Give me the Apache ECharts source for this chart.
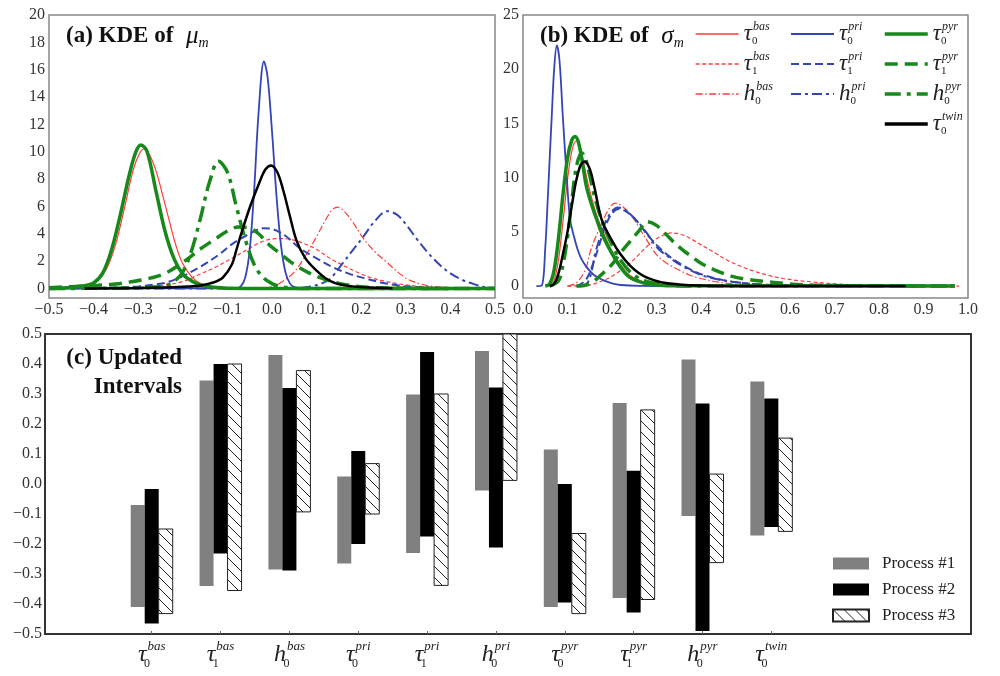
<!DOCTYPE html>
<html>
<head>
<meta charset="utf-8">
<script src="https://cdn.jsdelivr.net/npm/echarts@6/dist/echarts.min.js"></script>
<style>
  html, body { margin: 0; padding: 0; background: #fff; }
  #main { width: 1000px; height: 676px; }
</style>
</head>
<body>
<div id="main"></div>
<script>
// ---- (a) KDE of mu_m : [x, density]
var muTau0Bas = [[-0.5,0],[-0.44,0.05],[-0.41,0.2],[-0.39,0.6],[-0.37,1.5],[-0.35,3.3],[-0.33,6.0],[-0.31,8.8],[-0.295,10.0],[-0.287,10.2],[-0.275,9.8],[-0.26,8.6],[-0.245,6.8],[-0.23,4.9],[-0.215,3.1],[-0.2,1.8],[-0.18,0.85],[-0.16,0.35],[-0.13,0.1],[-0.1,0.02],[0.0,0],[0.5,0]];
var muTau1Bas = [[-0.5,0],[-0.34,0.03],[-0.28,0.12],[-0.24,0.25],[-0.2,0.5],[-0.168,0.95],[-0.13,1.5],[-0.09,2.2],[-0.05,2.95],[-0.02,3.45],[0.01,3.65],[0.04,3.6],[0.07,3.3],[0.1,2.85],[0.13,2.2],[0.168,1.55],[0.2,1.05],[0.22,0.8],[0.25,0.55],[0.28,0.35],[0.32,0.18],[0.36,0.08],[0.42,0.02],[0.5,0]];
var muH0Bas = [[-0.5,0],[-0.05,0],[0.0,0.12],[0.025,0.55],[0.05,1.2],[0.078,2.55],[0.1,3.8],[0.12,5.0],[0.135,5.75],[0.147,5.95],[0.16,5.7],[0.18,4.9],[0.204,3.7],[0.23,2.7],[0.258,1.9],[0.28,1.25],[0.303,0.7],[0.33,0.35],[0.36,0.15],[0.4,0.05],[0.45,0.01],[0.5,0]];
var muTau0Pri = [[-0.5,0],[-0.1,0],[-0.08,0.02],[-0.07,0.15],[-0.06,0.8],[-0.05,2.8],[-0.04,7.2],[-0.03,12.9],[-0.018,16.6],[-0.01,15.5],[0.0,11.5],[0.01,6.8],[0.02,3.2],[0.03,1.2],[0.04,0.37],[0.05,0.09],[0.07,0],[0.5,0]];
var muTau1Pri = [[-0.5,0],[-0.38,0.05],[-0.3,0.15],[-0.26,0.3],[-0.235,0.45],[-0.2,0.9],[-0.16,1.6],[-0.12,2.45],[-0.087,3.3],[-0.05,4.0],[-0.02,4.4],[0.0,4.35],[0.03,3.85],[0.06,3.0],[0.1,2.2],[0.137,1.55],[0.175,1.05],[0.213,0.7],[0.25,0.4],[0.287,0.2],[0.33,0.08],[0.38,0.02],[0.45,0],[0.5,0]];
var muH0Pri = [[-0.5,0],[0.04,0],[0.08,0.1],[0.11,0.35],[0.13,0.7],[0.16,1.9],[0.18,2.75],[0.204,3.75],[0.23,4.9],[0.258,5.65],[0.28,5.4],[0.3,4.7],[0.325,3.6],[0.35,2.6],[0.377,1.7],[0.4,1.1],[0.428,0.6],[0.45,0.35],[0.473,0.12],[0.5,0.05]];
var muTau0Pyr = [[-0.5,0],[-0.46,0.05],[-0.42,0.2],[-0.4,0.4],[-0.38,1.1],[-0.36,2.8],[-0.34,5.4],[-0.32,8.3],[-0.305,10.0],[-0.294,10.5],[-0.28,10.0],[-0.26,7.1],[-0.24,4.2],[-0.22,2.2],[-0.2,1.05],[-0.18,0.55],[-0.16,0.25],[-0.13,0.08],[-0.1,0.02],[0.0,0],[0.5,0]];
var muTau1Pyr = [[-0.5,0.05],[-0.44,0.15],[-0.39,0.23],[-0.35,0.32],[-0.32,0.46],[-0.28,0.7],[-0.24,1.1],[-0.2,1.9],[-0.16,2.9],[-0.13,3.55],[-0.1,4.2],[-0.075,4.5],[-0.05,4.4],[-0.03,4.0],[-0.01,3.3],[0.02,2.5],[0.05,1.75],[0.085,1.1],[0.12,0.65],[0.15,0.37],[0.2,0.12],[0.25,0.04],[0.3,0.01],[0.4,0]];
var muH0Pyr = [[-0.5,0],[-0.35,0.02],[-0.28,0.08],[-0.24,0.2],[-0.22,0.5],[-0.2,1.2],[-0.18,2.8],[-0.16,5.2],[-0.14,7.8],[-0.12,9.3],[-0.1,8.5],[-0.08,6.0],[-0.06,3.6],[-0.04,1.75],[-0.02,0.8],[0.0,0.35],[0.02,0.12],[0.05,0.02],[0.1,0],[0.5,0]];
var muTau0Twin = [[-0.42,0],[-0.3,0.03],[-0.2,0.12],[-0.16,0.22],[-0.13,0.45],[-0.11,0.8],[-0.09,1.75],[-0.08,2.8],[-0.07,3.9],[-0.05,5.9],[-0.03,7.6],[-0.015,8.7],[-0.002,9.0],[0.012,8.5],[0.025,7.2],[0.04,5.3],[0.055,3.5],[0.075,2.2],[0.1,1.3],[0.12,0.75],[0.145,0.35],[0.18,0.15],[0.22,0.06],[0.27,0.02]];

// ---- (b) KDE of sigma_m : [x, density]
var sgTau0Bas = [[0.06,0],[0.07,0.5],[0.08,2.5],[0.09,6],[0.1,9.8],[0.11,12.5],[0.12,13.4],[0.13,12.6],[0.14,10.6],[0.15,8.8],[0.165,6.6],[0.18,5.0],[0.2,3.2],[0.22,1.9],[0.24,1.0],[0.27,0.4],[0.3,0.12],[0.35,0.02],[0.4,0]];
var sgTau1Bas = [[0.1,0],[0.15,0.1],[0.173,0.4],[0.2,0.9],[0.24,2.1],[0.26,2.9],[0.285,3.9],[0.31,4.6],[0.335,4.9],[0.36,4.7],[0.38,4.3],[0.4,3.8],[0.43,3.1],[0.458,2.4],[0.485,1.9],[0.51,1.5],[0.55,1.0],[0.585,0.7],[0.62,0.5],[0.66,0.35],[0.7,0.2],[0.75,0.1],[0.82,0.03],[0.98,0]];
var sgH0Bas = [[0.1,0],[0.12,0.3],[0.14,1.5],[0.15,3.0],[0.16,4.2],[0.173,5.4],[0.19,6.9],[0.207,7.65],[0.225,7.3],[0.247,6.3],[0.265,5.1],[0.285,3.8],[0.3,2.9],[0.323,2.1],[0.35,1.5],[0.375,1.0],[0.41,0.6],[0.45,0.3],[0.5,0.12],[0.6,0.03],[0.7,0]];
var sgTau0Pri = [[0.03,0],[0.042,0.05],[0.05,3.5],[0.055,7.5],[0.06,11.8],[0.065,16],[0.07,20],[0.076,22.2],[0.082,20.8],[0.09,15.3],[0.1,9.0],[0.106,6.1],[0.115,4.5],[0.121,3.6],[0.13,2.6],[0.143,1.75],[0.16,1.0],[0.18,0.55],[0.2,0.25],[0.22,0.1],[0.26,0.02],[0.38,0]];
var sgTau1Pri = [[0.12,0],[0.14,0.5],[0.155,1.8],[0.17,3.6],[0.185,5.5],[0.2,6.7],[0.215,7.1],[0.235,6.8],[0.26,5.8],[0.28,4.7],[0.3,3.8],[0.33,2.7],[0.36,1.9],[0.4,1.1],[0.45,0.55],[0.5,0.25],[0.56,0.1],[0.65,0.02],[0.75,0]];
var sgH0Pri = [[0.13,0],[0.145,0.3],[0.155,1.5],[0.162,3.0],[0.177,4.9],[0.19,6.3],[0.213,7.25],[0.23,7.0],[0.256,6.0],[0.28,4.8],[0.3,3.6],[0.33,2.6],[0.36,1.8],[0.39,1.2],[0.413,0.85],[0.44,0.6],[0.47,0.4],[0.52,0.18],[0.58,0.06],[0.65,0]];
var sgTau0Pyr = [[0.05,0],[0.06,0.2],[0.07,1.5],[0.08,4.5],[0.09,8.5],[0.1,11.8],[0.11,13.5],[0.117,13.8],[0.125,13.2],[0.135,11],[0.143,9.1],[0.155,7.4],[0.166,6.1],[0.18,4.6],[0.2,3.0],[0.22,1.7],[0.24,0.8],[0.27,0.3],[0.3,0.1],[0.35,0.02],[0.97,0]];
var sgTau1Pyr = [[0.12,0],[0.15,0.2],[0.18,1.2],[0.2,2.0],[0.218,3.0],[0.24,4.1],[0.263,5.2],[0.278,5.95],[0.3,5.6],[0.323,4.7],[0.34,4.0],[0.36,3.3],[0.38,2.7],[0.4,2.1],[0.43,1.5],[0.47,0.9],[0.5,0.65],[0.55,0.4],[0.6,0.2],[0.65,0.1],[0.75,0.02],[0.97,0]];
var sgH0Pyr = [[0.06,0],[0.08,0.5],[0.09,2],[0.1,4.5],[0.11,8],[0.12,11],[0.132,12.3],[0.14,11.8],[0.15,10.2],[0.16,8.4],[0.175,6.3],[0.19,4.7],[0.21,3.0],[0.23,1.8],[0.25,1.0],[0.28,0.4],[0.32,0.1],[0.4,0],[0.97,0]];
var sgTau0Twin = [[0.06,0],[0.07,0.2],[0.08,1.2],[0.09,3],[0.1,5],[0.11,7.5],[0.12,9.8],[0.13,11.2],[0.139,11.5],[0.15,10.8],[0.16,9.2],[0.177,6.1],[0.2,4.2],[0.218,3.0],[0.24,1.9],[0.26,1.2],[0.28,0.75],[0.31,0.35],[0.35,0.15],[0.4,0.05],[0.5,0.01],[0.86,0]];

// ---- (c) updated intervals
var catSymbols = ['τ','τ','h','τ','τ','h','τ','τ','h','τ'];
var catSubs = ['0','1','0','0','1','0','0','1','0','0'];
var catSups = ['bas','bas','bas','pri','pri','pri','pyr','pyr','pyr','twin'];
var proc1Low  = [-0.41,-0.34,-0.285,-0.265,-0.23,-0.022,-0.41,-0.38,-0.107,-0.172];
var proc1High = [-0.07,0.345,0.43,0.025,0.298,0.443,0.115,0.27,0.415,0.342];
var proc2Low  = [-0.465,-0.232,-0.288,-0.2,-0.175,-0.212,-0.395,-0.428,-0.49,-0.143];
var proc2High = [-0.017,0.40,0.32,0.11,0.44,0.322,0.0,0.044,0.268,0.285];
var proc3Low  = [-0.432,-0.355,-0.093,-0.1,-0.338,0.012,-0.432,-0.385,-0.262,-0.158];
var proc3High = [-0.15,0.40,0.378,0.068,0.30,0.5,-0.165,0.247,0.033,0.153];
var processNames = ['Process #1','Process #2','Process #3'];

// tick labels
var densTicksA = [0,2,4,6,8,10,12,14,16,18,20];
var densTicksB = [0,5,10,15,20,25];

var FONT = 'Liberation Serif';
var RED = '#ff3a3a', BLUE = '#3445b5', GREEN = '#16891a';

var curveKeys = ['tau0bas','tau1bas','h0bas','tau0pri','tau1pri','h0pri','tau0pyr','tau1pyr','h0pyr','tau0twin'];
var muData = [muTau0Bas,muTau1Bas,muH0Bas,muTau0Pri,muTau1Pri,muH0Pri,muTau0Pyr,muTau1Pyr,muH0Pyr,muTau0Twin];
var sgData = [sgTau0Bas,sgTau1Bas,sgH0Bas,sgTau0Pri,sgTau1Pri,sgH0Pri,sgTau0Pyr,sgTau1Pyr,sgH0Pyr,sgTau0Twin];
var curveSym = ['τ','τ','h','τ','τ','h','τ','τ','h','τ'];
var curveSub = ['0','1','0','0','1','0','0','1','0','0'];
var curveSup = ['bas','bas','bas','pri','pri','pri','pyr','pyr','pyr','twin'];
var lineStyles = [
  {color: RED, width: 1.2, type: 'solid'},
  {color: RED, width: 1.2, type: [4, 2.5]},
  {color: RED, width: 1.2, type: [7, 2.5, 1.5, 2.5]},
  {color: BLUE, width: 1.8, type: 'solid'},
  {color: BLUE, width: 2, type: [8, 4]},
  {color: BLUE, width: 2, type: [10, 4, 3, 4]},
  {color: GREEN, width: 3.5, type: 'solid'},
  {color: GREEN, width: 3.5, type: [13, 7]},
  {color: GREEN, width: 3.5, type: [16, 6, 4, 6]},
  {color: '#000', width: 2.5, type: 'solid'}
];

function fmtSigned(v) {
  var r = Math.round(v * 10) / 10;
  return (r < 0 ? '\u2212' : '') + Math.abs(r).toFixed(1);
}
function symLabel(s, sub, sup) {
  return '{t|' + s + '}{sub|' + sub + '}{sup|' + sup + '}';
}
var symRich = {
  t: {fontFamily: FONT, fontStyle: 'italic', fontSize: 23, lineHeight: 26, color: '#222'},
  sub: {fontFamily: FONT, fontSize: 11, lineHeight: 11, verticalAlign: 'bottom', width: 1, color: '#222'},
  sup: {fontFamily: FONT, fontStyle: 'italic', fontSize: 12, lineHeight: 12, verticalAlign: 'top', color: '#222'}
};

// hatch pattern for process #3
var hc = document.createElement('canvas');
hc.width = 11; hc.height = 11;
var hctx = hc.getContext('2d');
hctx.fillStyle = '#fff';
hctx.fillRect(0, 0, 11, 11);
hctx.strokeStyle = '#222';
hctx.lineWidth = 1;
hctx.beginPath();
hctx.moveTo(-1, -1); hctx.lineTo(12, 12);
hctx.stroke();
var hatch = {image: hc, repeat: 'repeat'};

var myChart = echarts.init(document.getElementById('main'));

var series = [];
for (var i = 0; i < curveKeys.length; i++) {
  var ls = lineStyles[i];
  series.push({
    name: curveKeys[i], type: 'line', xAxisIndex: 0, yAxisIndex: 0,
    data: muData[i], smooth: 0.35, showSymbol: false, symbol: 'none',
    lineStyle: {color: ls.color, width: ls.width, type: ls.type},
    itemStyle: {color: ls.color}, z: 2 + i
  });
  series.push({
    name: curveKeys[i], type: 'line', xAxisIndex: 1, yAxisIndex: 1,
    data: sgData[i], smooth: 0.35, showSymbol: false, symbol: 'none',
    lineStyle: {color: ls.color, width: ls.width, type: ls.type},
    itemStyle: {color: ls.color}, z: 2 + i
  });
}

function barRender(offset, fill, hatched) {
  return function (params, api) {
    var x = api.value(0);
    var lo = api.coord([x, api.value(1)]);
    var hi = api.coord([x, api.value(2)]);
    var w = 14;
    return {
      type: 'rect',
      shape: {x: lo[0] + offset * w - w / 2, y: hi[1], width: w, height: lo[1] - hi[1]},
      style: hatched ? {fill: hatch, stroke: '#222', lineWidth: 1} : {fill: fill}
    };
  };
}
var procs = [[proc1Low, proc1High, '#808080', false], [proc2Low, proc2High, '#000', false], [proc3Low, proc3High, hatch, true]];
procs.forEach(function (p, k) {
  series.push({
    name: processNames[k], type: 'custom', xAxisIndex: 2, yAxisIndex: 2,
    renderItem: barRender(k - 1, p[2], p[3]),
    itemStyle: p[3] ? {color: hatch, borderColor: '#222', borderWidth: 1} : {color: p[2]},
    encode: {x: 0, y: [1, 2]},
    data: p[0].map(function (lo, j) { return [j + 1, lo, p[1][j]]; })
  });
});

var tickLabel = {fontFamily: FONT, fontSize: 16, color: '#333'};
var catPos = catSymbols.map(function (s, i) { return i + 1; });

function curveLegend(keys, left, top, lw) {
  return {
    data: keys, left: left, top: top, orient: 'vertical', padding: 0,
    itemWidth: 43, itemHeight: 14, itemGap: 4, selectedMode: false,
    itemStyle: {opacity: 0},
    lineStyle: {width: lw},
    formatter: function (name) {
      var i = curveKeys.indexOf(name);
      return symLabel(curveSym[i], curveSub[i], curveSup[i]);
    },
    textStyle: {rich: symRich}
  };
}

var titleRich = {
  b: {fontFamily: FONT, fontWeight: 'bold', fontSize: 23, lineHeight: 28, color: '#111'},
  m: {fontFamily: FONT, fontWeight: 'normal', fontStyle: 'italic', fontSize: 25, lineHeight: 28, padding: [0, 0, 0, 7], color: '#111'},
  s: {fontFamily: FONT, fontWeight: 'normal', fontStyle: 'italic', fontSize: 14, lineHeight: 14, verticalAlign: 'bottom', color: '#111'}
};

option3 = {
  animation: false,
  backgroundColor: '#fff',
  title: [
    {text: '{b|(a) KDE of }{m|μ}{s|m}', left: 66, top: 22, padding: 0, textStyle: {rich: titleRich}},
    {text: '{b|(b) KDE of }{m|σ}{s|m}', left: 540, top: 22, padding: 0, textStyle: {rich: titleRich}},
    {
      text: '(c) Updated\nIntervals', left: 182, top: 344, padding: 0, textAlign: 'right',
      textStyle: {fontFamily: FONT, fontWeight: 'bold', fontSize: 23, lineHeight: 29, color: '#111'}
    }
  ],
  legend: [
    curveLegend(curveKeys.slice(0, 3), 695, 21, 1.3),
    curveLegend(curveKeys.slice(3, 6), 790, 21, 2),
    curveLegend(curveKeys.slice(6, 10), 883, 21, 3.5),
    {
      data: processNames, left: 832, top: 555, orient: 'vertical', icon: 'rect', padding: 0,
      itemWidth: 36, itemHeight: 12, itemGap: 9, selectedMode: false,
      textStyle: {fontFamily: FONT, fontSize: 17, color: '#222', padding: [0, 0, 0, 8]}
    }
  ],
  grid: [
    {left: 49, top: 15, width: 446, height: 283, show: true, borderColor: '#888', borderWidth: 1.5},
    {left: 523, top: 15, width: 445, height: 283, show: true, borderColor: '#888', borderWidth: 1.5},
    {left: 45, top: 334, width: 926, height: 300, show: true, borderColor: '#333', borderWidth: 2}
  ],
  xAxis: [
    {type: 'value', gridIndex: 0, min: -0.5, max: 0.5, interval: 0.1,
     axisLine: {show: false, onZero: false}, axisTick: {show: false}, splitLine: {show: false},
     axisLabel: Object.assign({margin: 4, formatter: fmtSigned, showMinLabel: true, showMaxLabel: true}, tickLabel)},
    {type: 'value', gridIndex: 1, min: 0, max: 1, interval: 0.1,
     axisLine: {show: false, onZero: false}, axisTick: {show: false}, splitLine: {show: false},
     axisLabel: Object.assign({margin: 4, formatter: fmtSigned, showMinLabel: true, showMaxLabel: true}, tickLabel)},
    {type: 'value', gridIndex: 2, min: -0.55, max: 12.9,
     axisLine: {show: false, onZero: false}, splitLine: {show: false},
     axisTick: {show: true, inside: true, length: 3, lineStyle: {color: '#666'}, customValues: catPos},
     axisLabel: {margin: 6, customValues: catPos,
       formatter: function (v) { var i = Math.round(v) - 1; return symLabel(catSymbols[i], catSubs[i], catSups[i]); },
       rich: {
         t: {fontFamily: FONT, fontStyle: 'italic', fontSize: 24, lineHeight: 30, color: '#222'},
         sub: {fontFamily: FONT, fontSize: 12, lineHeight: 12, verticalAlign: 'bottom', width: 1, color: '#222'},
         sup: {fontFamily: FONT, fontStyle: 'italic', fontSize: 13, lineHeight: 13, verticalAlign: 'top', color: '#222'}
       }}}
  ],
  yAxis: [
    {type: 'value', gridIndex: 0, min: -0.7, max: 20,
     axisLine: {show: false, onZero: false}, axisTick: {show: false}, splitLine: {show: false},
     axisLabel: Object.assign({margin: 4, customValues: densTicksA}, tickLabel)},
    {type: 'value', gridIndex: 1, min: -1.1, max: 25,
     axisLine: {show: false, onZero: false}, axisTick: {show: false}, splitLine: {show: false},
     axisLabel: Object.assign({margin: 4, customValues: densTicksB}, tickLabel)},
    {type: 'value', gridIndex: 2, min: -0.5, max: 0.5, interval: 0.1,
     axisLine: {show: false, onZero: false}, axisTick: {show: false}, splitLine: {show: false},
     axisLabel: Object.assign({margin: 3, formatter: fmtSigned}, tickLabel)}
  ],
  series: series
};
myChart.setOption(option3);
window.onresize = function () { myChart.resize(); };
</script>
</body>
</html>
